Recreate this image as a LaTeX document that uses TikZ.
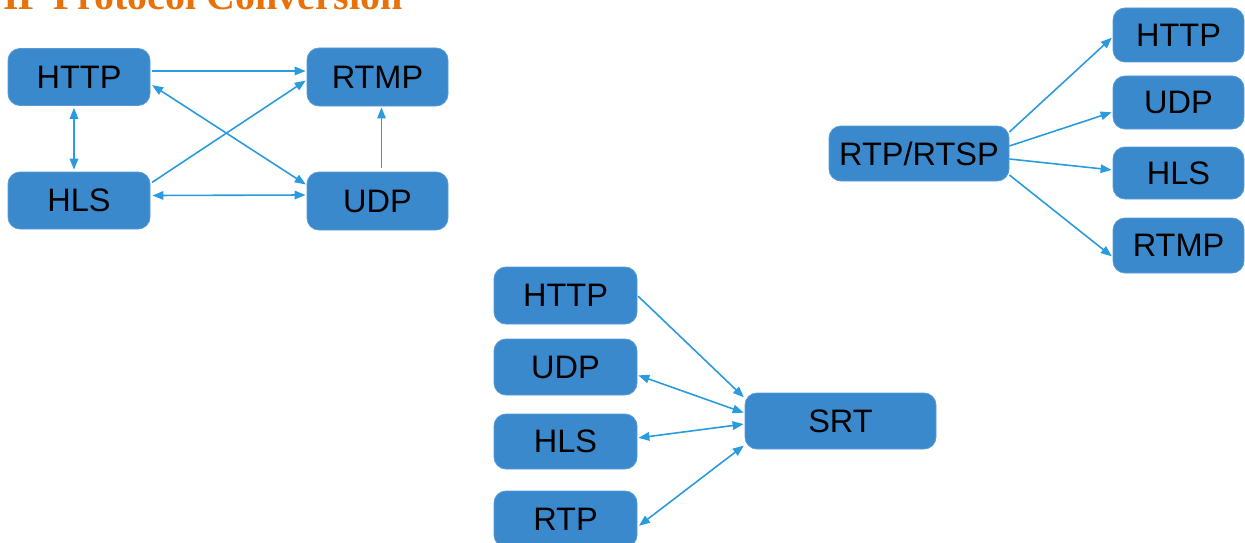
\documentclass[tikz,border=0pt]{standalone}
\usepackage{fontspec}
\setmainfont{Liberation Sans}
\newfontfamily\titlefont{Liberation Serif}
\usetikzlibrary{arrows.meta}
\definecolor{boxblue}{HTML}{3A89CD}
\definecolor{arrblue}{HTML}{2A9BDE}
\definecolor{titleorange}{HTML}{E8710A}
\begin{document}
\begin{tikzpicture}[x=1pt,y=-1pt,
  pbox/.style={draw=boxblue!85!white, line width=0.8pt, fill=boxblue, rounded corners=12pt, inner sep=0pt,
    font=\fontsize{32.5}{32.5}\selectfont, text=black},
  conn/.style={draw=arrblue, line width=1.6pt, -{Triangle[length=11pt,width=8.5pt]}},
  bconn/.style={draw=arrblue, line width=1.6pt, {Triangle[length=11pt,width=8.5pt]}-{Triangle[length=11pt,width=8.5pt]}}
]
\useasboundingbox (0,0) rectangle (1245,543);
\node[anchor=base west, inner sep=0pt, text=titleorange, font=\titlefont\bfseries\fontsize{40}{40}\selectfont] (title) at (3,10) {IP Protocol Conversion};
% left group
\node[pbox, minimum width=142pt, minimum height=57pt] (lhttp) at (79,77) {HTTP};
\node[pbox, minimum width=141pt, minimum height=58pt] (lrtmp) at (377.5,77) {RTMP};
\node[pbox, minimum width=142pt, minimum height=57pt] (lhls) at (79,200.5) {HLS};
\node[pbox, minimum width=141pt, minimum height=58pt] (ludp) at (377.5,201) {UDP};
\draw[conn, shorten <=2pt, shorten >=1pt] ([yshift=6]lhttp.east) -- ([yshift=6]lrtmp.west);
\draw[bconn, shorten <=2pt, shorten >=2pt] ([xshift=-5]lhttp.south) -- ([xshift=-5]lhls.north);
\draw[conn, shorten <=2pt, shorten >=1pt] ([yshift=17]lhls.east) -- ([yshift=-3]lrtmp.west);
\draw[bconn, shorten <=2pt, shorten >=1pt] ([yshift=-7]lhttp.east) -- ([yshift=16]ludp.west);
\draw[bconn, shorten <=2pt, shorten >=1pt] ([yshift=5]lhls.east) -- ([yshift=6]ludp.west);
\draw[conn, shorten <=4pt, shorten >=1pt] ([xshift=4]ludp.north) -- ([xshift=4]lrtmp.south);
% right group
\node[pbox, minimum width=180pt, minimum height=55pt] (rtsp) at (919,153.5) {RTP/RTSP};
\node[pbox, minimum width=131pt, minimum height=54pt] (rhttp) at (1178.5,35) {HTTP};
\node[pbox, minimum width=131pt, minimum height=53pt] (rudp) at (1178.5,102.5) {UDP};
\node[pbox, minimum width=131pt, minimum height=52pt] (rhls) at (1178.5,173) {HLS};
\node[pbox, minimum width=131pt, minimum height=55pt] (rrtmp) at (1178.5,245.5) {RTMP};
\draw[conn, shorten >=1pt] ([yshift=21.5]rtsp.east) -- ([yshift=-2]rhttp.west);
\draw[conn, shorten >=1pt] ([yshift=7.5]rtsp.east) -- ([yshift=-9.5]rudp.west);
\draw[conn, shorten >=1pt] ([yshift=-5.5]rtsp.east) -- ([yshift=3]rhls.west);
\draw[conn, shorten >=1pt] ([yshift=-21.5]rtsp.east) -- ([yshift=-11.5]rrtmp.west);
% bottom group
\node[pbox, minimum width=143pt, minimum height=57pt] (bhttp) at (565.5,295.5) {HTTP};
\node[pbox, minimum width=143pt, minimum height=56pt] (budp) at (565.5,367) {UDP};
\node[pbox, minimum width=143pt, minimum height=55pt] (bhls) at (565.5,441.5) {HLS};
\node[pbox, minimum width=143pt, minimum height=56pt] (brtp) at (565.5,519) {RTP};
\node[pbox, minimum width=191pt, minimum height=56pt] (srt) at (840.5,421) {SRT};
\draw[conn, shorten <=1pt, shorten >=1pt] (bhttp.east) -- ([yshift=23]srt.west);
\draw[bconn, shorten <=1pt, shorten >=1pt] ([yshift=-8]budp.east) -- ([yshift=8]srt.west);
\draw[bconn, shorten <=1pt, shorten >=1pt] ([yshift=3.5]bhls.east) -- ([yshift=-3]srt.west);
\draw[bconn, shorten <=2pt, shorten >=1pt] ([yshift=-8]brtp.east) -- ([yshift=-24]srt.west);
\end{tikzpicture}
\end{document}
